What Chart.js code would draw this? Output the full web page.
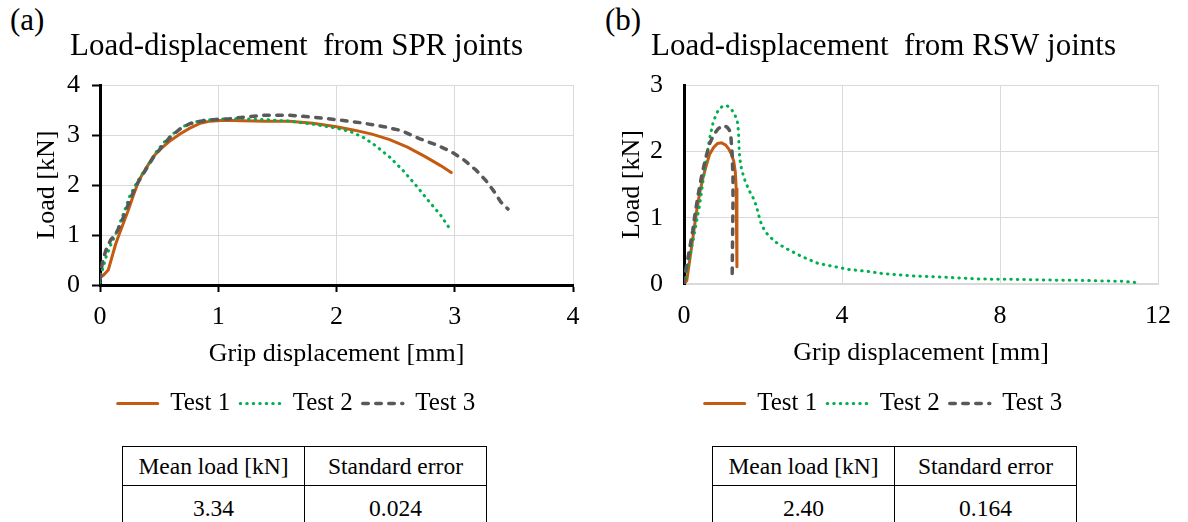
<!DOCTYPE html>
<html>
<head>
<meta charset="utf-8">
<script src="https://cdn.jsdelivr.net/npm/chart.js@4.4.1/dist/chart.umd.min.js"></script>
<style>
    body { margin: 0; width: 1188px; height: 522px; overflow: hidden; background: #fff; position: relative;
           font-family: 'Liberation Serif', 'DejaVu Serif', serif; color: #000; }
    .panel { position: absolute; top: 0; width: 594px; height: 430px; }
    .tag { position: absolute; top: 4px; font-size: 31px; line-height: 1; }
    table.stats { position: absolute; top: 446px; border-collapse: collapse; font-size: 23.5px; }
    table.stats td { border: 1.5px solid #000; width: 181px; text-align: center; padding: 0; }
    table.stats tr.head td { height: 38px; }
    table.stats tr.val td { height: 44px; }
</style>
</head>
<body>

<div class="tag" style="left:10px">(a)</div>
<div class="tag" style="left:605px">(b)</div>

<div class="panel" style="left:0"><canvas id="chart-spr"></canvas></div>
<div class="panel" style="left:594px"><canvas id="chart-rsw"></canvas></div>

<table class="stats" style="left:122px">
    <tr class="head"><td>Mean load [kN]</td><td>Standard error</td></tr>
    <tr class="val"><td>3.34</td><td>0.024</td></tr>
</table>
<table class="stats" style="left:712px">
    <tr class="head"><td>Mean load [kN]</td><td>Standard error</td></tr>
    <tr class="val"><td>2.40</td><td>0.164</td></tr>
</table>

<script>
// SPR joints: grip displacement [mm] / load [kN]
var sprDesp1 = [0.0, 0.03, 0.07, 0.1, 0.13, 0.16, 0.2, 0.24, 0.28, 0.33, 0.38, 0.45, 0.52, 0.6, 0.68, 0.76, 0.84, 0.93, 1.05, 1.2, 1.4, 1.6, 1.8, 2.0, 2.15, 2.3, 2.45, 2.6, 2.75, 2.88, 2.97];
var sprCarga1 = [0.15, 0.2, 0.3, 0.55, 0.8, 1.0, 1.25, 1.5, 1.78, 2.1, 2.3, 2.57, 2.74, 2.9, 3.03, 3.14, 3.23, 3.28, 3.3, 3.29, 3.28, 3.28, 3.24, 3.17, 3.1, 3.02, 2.91, 2.76, 2.57, 2.39, 2.25];

var sprDesp2 = [0.0, 0.02, 0.05, 0.09, 0.13, 0.17, 0.21, 0.25, 0.3, 0.35, 0.42, 0.48, 0.55, 0.62, 0.7, 0.78, 0.87, 1.0, 1.2, 1.4, 1.6, 1.8, 2.0, 2.12, 2.23, 2.33, 2.45, 2.56, 2.67, 2.78, 2.88, 2.96];
var sprCarga2 = [0.05, 0.3, 0.55, 0.8, 1.0, 1.25, 1.5, 1.77, 2.0, 2.2, 2.45, 2.68, 2.88, 3.03, 3.17, 3.25, 3.3, 3.32, 3.33, 3.31, 3.28, 3.22, 3.14, 3.07, 2.95, 2.79, 2.56, 2.3, 2.0, 1.68, 1.4, 1.12];

var sprDesp3 = [0.0, 0.02, 0.05, 0.09, 0.14, 0.18, 0.22, 0.27, 0.32, 0.38, 0.45, 0.52, 0.6, 0.68, 0.76, 0.85, 0.95, 1.1, 1.25, 1.4, 1.6, 1.8, 2.0, 2.2, 2.4, 2.55, 2.7, 2.85, 2.97, 3.08, 3.18, 3.26, 3.33, 3.39, 3.45];
var sprCarga3 = [0.1, 0.45, 0.7, 0.9, 1.05, 1.25, 1.5, 1.8, 2.05, 2.28, 2.55, 2.76, 2.98, 3.13, 3.23, 3.28, 3.31, 3.33, 3.37, 3.4, 3.4, 3.36, 3.31, 3.25, 3.17, 3.09, 2.93, 2.8, 2.67, 2.5, 2.3, 2.1, 1.88, 1.66, 1.52];

// RSW joints
var rswDesp1 = [0.0, 0.07, 0.13, 0.19, 0.26, 0.32, 0.4, 0.48, 0.57, 0.65, 0.75, 0.85, 0.95, 1.05, 1.13, 1.2, 1.26, 1.3, 1.32, 1.34, 1.34, 1.34];
var rswCarga1 = [0.0, 0.05, 0.3, 0.55, 0.85, 1.1, 1.38, 1.6, 1.8, 1.96, 2.06, 2.12, 2.13, 2.1, 2.04, 1.96, 1.85, 1.68, 1.45, 1.2, 0.8, 0.26];

var rswDesp2 = [0.0, 0.05, 0.12, 0.23, 0.32, 0.4, 0.48, 0.57, 0.65, 0.73, 0.82, 0.9, 1.0, 1.09, 1.18, 1.28, 1.35, 1.38, 1.39, 1.41, 1.46, 1.55, 1.65, 1.75, 1.83, 1.9, 1.97, 2.1, 2.3, 2.57, 3.0, 3.4, 3.83, 4.16, 4.66, 5.0, 5.83, 6.67, 7.5, 8.34, 9.17, 10.0, 10.68, 11.1, 11.5];
var rswCarga2 = [0.0, 0.1, 0.35, 0.66, 0.95, 1.21, 1.55, 1.91, 2.2, 2.42, 2.57, 2.65, 2.69, 2.69, 2.65, 2.57, 2.45, 2.3, 2.1, 1.9, 1.72, 1.55, 1.41, 1.3, 1.18, 1.02, 0.88, 0.76, 0.64, 0.54, 0.41, 0.31, 0.26, 0.22, 0.19, 0.16, 0.12, 0.1, 0.075, 0.07, 0.06, 0.055, 0.045, 0.04, 0.02];

var rswDesp3 = [0.0, 0.03, 0.09, 0.15, 0.22, 0.28, 0.36, 0.44, 0.54, 0.65, 0.75, 0.86, 0.95, 1.03, 1.1, 1.15, 1.19, 1.22, 1.24, 1.24, 1.23, 1.22];
var rswCarga3 = [0.0, 0.16, 0.35, 0.56, 0.8, 1.06, 1.35, 1.61, 1.88, 2.12, 2.25, 2.34, 2.38, 2.39, 2.36, 2.32, 2.2, 1.96, 1.6, 1.21, 0.7, 0.16];

var nombresSerie = ['Test 1', 'Test 2', 'Test 3'];

var FUENTE = "'Liberation Serif', 'DejaVu Serif', serif";
Chart.defaults.font.family = FUENTE;
Chart.defaults.color = '#000';

// junta las dos listas en puntos {x, y}
function pares(listaX, listaY) {
    var puntos = [];
    for (var i = 0; i < listaX.length; i++) {
        puntos.push({ x: listaX[i], y: listaY[i] });
    }
    return puntos;
}

function series(d1, c1, d2, c2, d3, c3) {
    return [{
        label: nombresSerie[0], data: pares(d1, c1), order: 3,
        borderColor: '#C55A11', borderWidth: 3, borderCapStyle: 'round', borderDash: []
    }, {
        label: nombresSerie[1], data: pares(d2, c2), order: 2,
        borderColor: '#00B050', borderWidth: 3, borderDash: [0.5, 6], borderCapStyle: 'round'
    }, {
        label: nombresSerie[2], data: pares(d3, c3), order: 1,
        borderColor: '#595959', borderWidth: 3.5, borderDash: [5.5, 7.5], borderCapStyle: 'round'
    }].map(function (ds) {
        ds.showLine = true;
        ds.pointRadius = 0;
        ds.pointStyle = 'line';
        ds.fill = false;
        return ds;
    });
}

// muestra de la leyenda con el mismo trazo que la serie
function etiquetasLeyenda(chart) {
    var items = Chart.defaults.plugins.legend.labels.generateLabels(chart);
    items.forEach(function (it) {
        var ds = chart.data.datasets[it.datasetIndex];
        it.lineDash = ds.borderDash;
        it.lineCap = ds.borderCapStyle;
        it.lineWidth = ds.borderWidth;
        it.strokeStyle = ds.borderColor;
        it.pointStyle = 'line';
    });
    return items.sort(function (a, b) { return a.datasetIndex - b.datasetIndex; });
}

function CREAR_GRAFICA(idCanvas, titulo, datasets, cfg) {
    new Chart(document.getElementById(idCanvas), {
        type: 'scatter',
        data: { datasets: datasets },
        options: {
            responsive: true,
            maintainAspectRatio: false,
            animation: false,
            layout: { padding: { left: cfg.padIzq, right: cfg.padDer, top: 0, bottom: 4 } },
            plugins: {
                tooltip: { enabled: false },
                title: {
                    display: true,
                    text: titulo,
                    font: { size: 31, weight: 'normal', lineHeight: 1.2 },
                    color: '#000',
                    padding: { top: 28, bottom: 20 }
                },
                legend: {
                    position: 'bottom',
                    labels: {
                        usePointStyle: true,
                        pointStyleWidth: 40,
                        padding: 10,
                        font: { size: 25 },
                        color: '#000',
                        generateLabels: etiquetasLeyenda
                    }
                }
            },
            scales: {
                x: {
                    type: 'linear',
                    min: 0, max: cfg.xMax,
                    afterFit: function (s) { s.height = cfg.altoX; },
                    ticks: { stepSize: cfg.xPaso, font: { size: 26 }, padding: cfg.xTickPad, color: '#000' },
                    grid: { color: '#D9D9D9', lineWidth: 1, drawTicks: cfg.marcas, tickLength: 7, tickColor: '#000', tickWidth: 2 },
                    border: { color: cfg.ejeXColor, width: cfg.ejeXAncho },
                    title: {
                        display: true, text: 'Grip displacement [mm]',
                        font: { size: 26, lineHeight: 1 }, color: '#000',
                        padding: { top: 0, bottom: cfg.altoX - 82 }
                    }
                },
                y: {
                    min: 0, max: cfg.yMax,
                    afterFit: function (s) { s.width = 80; },
                    ticks: { stepSize: 1, font: { size: 26 }, padding: cfg.yTickPad, color: '#000' },
                    grid: { color: '#D9D9D9', lineWidth: 1, drawTicks: cfg.marcas, tickLength: 8, tickColor: '#000', tickWidth: 2 },
                    border: { color: '#000', width: 3 },
                    title: {
                        display: true, text: 'Load [kN]',
                        font: { size: 26, lineHeight: 1 }, color: '#000',
                        padding: { top: cfg.yTitPad, bottom: 0 }
                    }
                }
            }
        }
    });
}

CREAR_GRAFICA('chart-spr', 'Load-displacement  from SPR joints',
    series(sprDesp1, sprCarga1, sprDesp2, sprCarga2, sprDesp3, sprCarga3),
    { padIzq: 20, padDer: 21, xMax: 4, xPaso: 1, yMax: 4, altoX: 96, marcas: true,
      xTickPad: 10, yTickPad: 12, yTitPad: 14, ejeXColor: '#000', ejeXAncho: 3 });

CREAR_GRAFICA('chart-rsw', 'Load-displacement  from RSW joints',
    series(rswDesp1, rswCarga1, rswDesp2, rswCarga2, rswDesp3, rswCarga3),
    { padIzq: 10, padDer: 25, xMax: 12, xPaso: 4, yMax: 3, altoX: 97, marcas: false,
      xTickPad: 17, yTickPad: 21, yTitPad: 15, ejeXColor: '#D9D9D9', ejeXAncho: 2 });
</script>
</body>
</html>
